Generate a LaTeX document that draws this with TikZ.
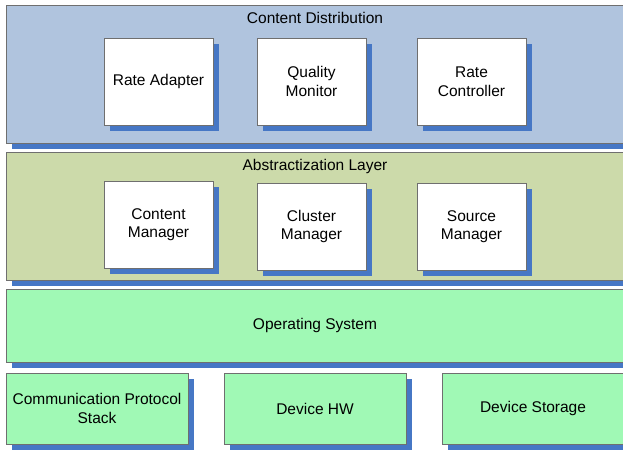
\documentclass[tikz,border=0pt]{standalone}
\usepackage{fontspec}
\setmainfont{Liberation Sans}
\usepackage{tikz}
\usetikzlibrary{shadows}
\definecolor{distblue}{HTML}{B0C4DE}
\definecolor{absgreen}{HTML}{CCDAAA}
\definecolor{osgreen}{HTML}{A0F9B5}
\definecolor{shadeblue}{HTML}{4677C5}
\definecolor{edgegray}{HTML}{6F6F6F}

\begin{document}
\begin{tikzpicture}[x=1pt, y=-1pt,
    font=\fontsize{15.5}{18.5}\selectfont,
    blk/.style={draw=edgegray, line width=1pt, align=center, inner sep=0pt,
      drop shadow={shadow xshift=6pt, shadow yshift=-6pt, fill=shadeblue, opacity=1}},
    layer/.style={blk, minimum width=618pt},
    unit/.style={blk, fill=white, minimum width=109pt, minimum height=87pt},
    base/.style={blk, fill=osgreen, minimum width=182pt, minimum height=71pt}]
  \useasboundingbox (0,0) rectangle (623,451);
  % layers
  \node[layer, fill=distblue, minimum height=138pt] (dist) at (315,74) {};
  \node[layer, fill=absgreen, minimum height=128pt] (absl) at (315,216) {};
  \node[layer, fill=osgreen, minimum height=73pt] (os) at (315,325.5) {Operating System};
  \node (distlbl) at (315,18) {Content Distribution};
  \node (abslbl) at (315,166) {Abstractization Layer};
  % content distribution blocks
  \node[unit] (rate) at (158.5,81.5) {Rate Adapter};
  \node[unit] (qual) at (311.5,81.5) {Quality\\Monitor};
  \node[unit] (ctrl) at (471.5,81.5) {Rate\\Controller};
  % abstraction blocks
  \node[unit] (cont) at (158.5,224.5) {Content\\Manager};
  \node[unit] (clus) at (311.5,226.5) {Cluster\\Manager};
  \node[unit] (srcm) at (471.5,226.5) {Source\\Manager};
  % hardware row
  \node[base] (comm) at (97,408.5) {Communication Protocol\\Stack};
  \node[base] (hw) at (315,408.5) {Device HW};
  \node[base] (stor) at (533,408.5) {Device Storage};
\end{tikzpicture}
\end{document}
